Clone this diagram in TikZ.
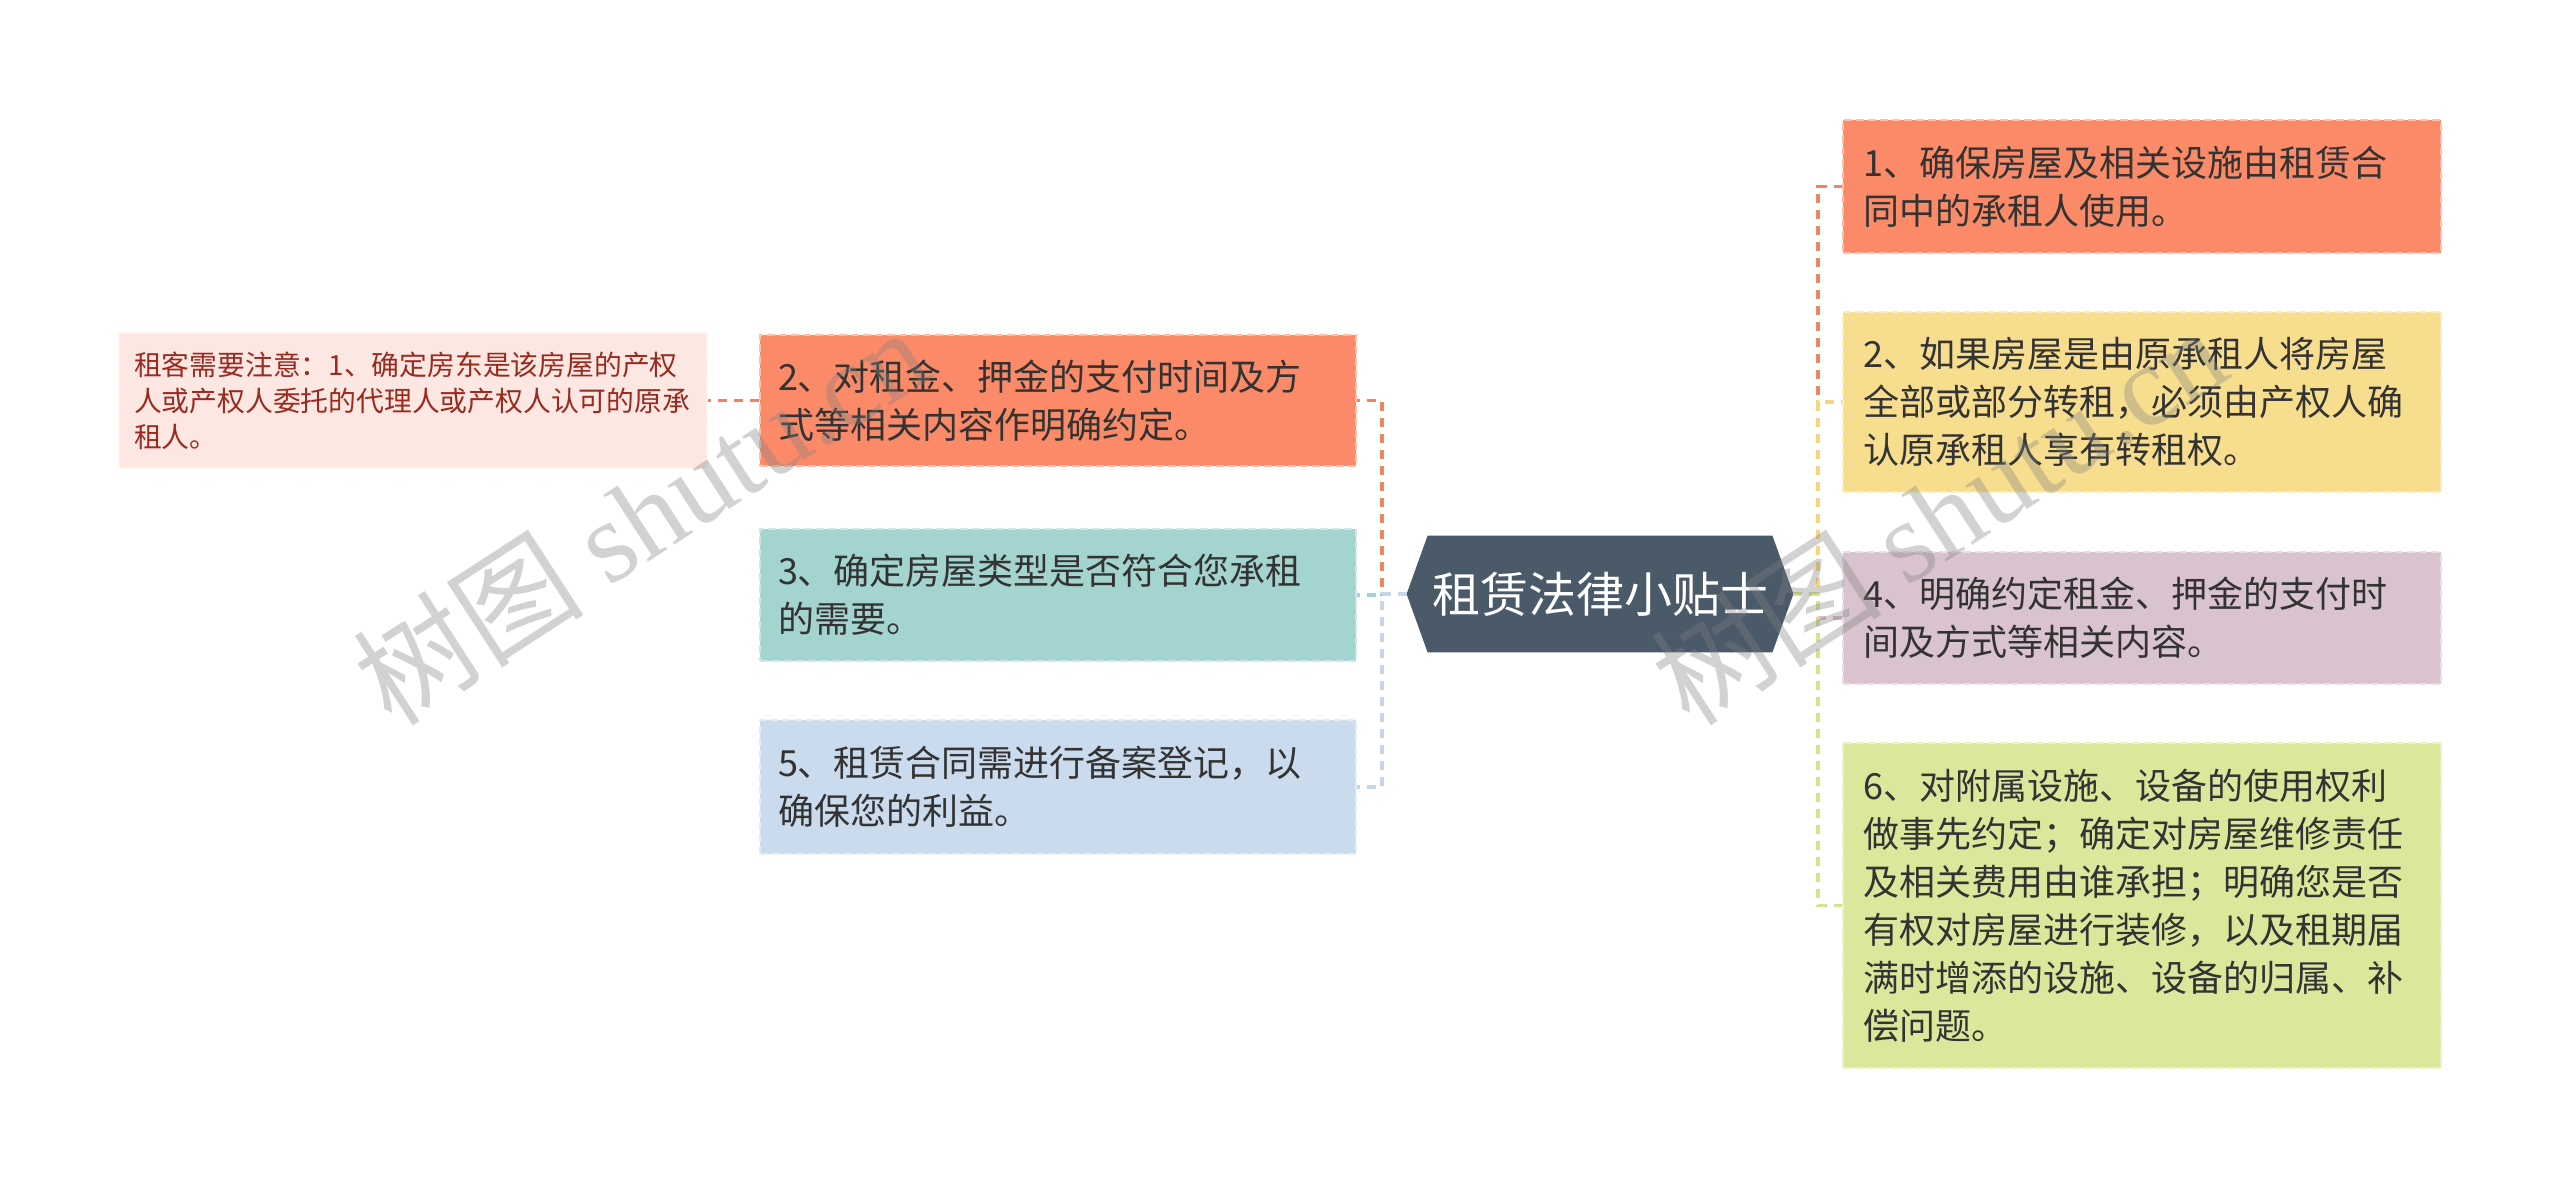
\documentclass[tikz,border=0pt]{standalone}
\usepackage{fontspec}
\setmainfont{Noto Sans CJK SC}
\newfontfamily\wmlatin{Liberation Serif}
\usetikzlibrary{backgrounds}
\definecolor{corange}{HTML}{FB8A68}
\definecolor{cteal}{HTML}{A3D4CF}
\definecolor{cblue}{HTML}{C9DBEC}
\definecolor{cyellow}{HTML}{F7DE8F}
\definecolor{cmauve}{HTML}{D9C3CE}
\definecolor{cgreen}{HTML}{DBE89C}
\definecolor{ccenter}{HTML}{4A5A69}
\definecolor{cnote}{HTML}{FDE7E3}
\definecolor{cnotetxt}{HTML}{9A2A1E}
\definecolor{ctxt}{HTML}{333333}
\definecolor{lorange}{HTML}{EE8466}
\definecolor{lteal}{HTML}{A3D4CF}
\definecolor{lblue}{HTML}{C5D6E8}
\definecolor{lyellow}{HTML}{F2D77E}
\definecolor{lmauve}{HTML}{D3BCC8}
\definecolor{lgreen}{HTML}{D4E48C}
\begin{document}
\begin{tikzpicture}[x=0.5pt,y=-0.5pt,
  box/.style={rectangle, inner xsep=9pt, inner ysep=0pt, text width=280pt,
    align=left, font=\fontsize{18pt}{24pt}\selectfont, text=ctxt,
    line width=1pt, dash pattern=on 4pt off 2pt},
  rbox/.style={box, inner xsep=10pt, text width=279pt},
  obox/.style={fill=corange, draw=corange!55!white},
  tbox/.style={fill=cteal, draw=cteal!55!white},
  bbox/.style={fill=cblue, draw=cblue!50!white},
  ybox/.style={fill=cyellow, draw=cyellow!55!white},
  mbox/.style={fill=cmauve, draw=cmauve!55!white},
  gbox/.style={fill=cgreen, draw=cgreen!55!white},
  notebox/.style={rectangle, fill=cnote, draw=cnote!60!white, line width=1pt,
    dash pattern=on 4pt off 2pt, inner xsep=7.5pt, inner ysep=0pt,
    text width=279pt, align=left, text=cnotetxt,
    font=\fontsize{13.9pt}{18pt}\selectfont},
  conn/.style={line width=1.6pt, dash pattern=on 4.5pt off 3.5pt},
  wm/.style={rotate=33, text=gray, opacity=0.35, font=\fontsize{58pt}{58pt}\selectfont},
]
\useasboundingbox (0,0) rectangle (2560,1188);

% center
\node[minimum width=193pt, minimum height=58pt, inner sep=0pt, text=white,
  font=\fontsize{24pt}{28pt}\selectfont] (c) at (1600,594) {租赁法律小贴士};
\begin{scope}[on background layer]
\fill[white] (0,0) rectangle (2560,1188);
\fill[ccenter] (c.west) -- ([xshift=10.5pt]c.north west) -- ([xshift=-10.5pt]c.north east)
  -- (c.east) -- ([xshift=-10.5pt]c.south east) -- ([xshift=10.5pt]c.south west) -- cycle;
\end{scope}

% left nodes
\node[box, obox, minimum height=65.5pt] (l2) at (1058,400.5)
  {2、对租金、押金的支付时间及方\\式等相关内容作明确约定。};
\node[box, tbox, minimum height=66pt] (l3) at (1058,595)
  {3、确定房屋类型是否符合您承租\\的需要。};
\node[box, bbox, minimum height=67pt] (l5) at (1058,787)
  {5、租赁合同需进行备案登记，以\\确保您的利益。};
\node[notebox, minimum width=294pt, minimum height=67.5pt] (note) at (413,400.5)
  {租客需要注意：1、确定房东是该房屋的产权\\人或产权人委托的代理人或产权人认可的原承\\租人。};

% right nodes
\node[rbox, obox, minimum height=66.5pt] (r1) at (2142,186.5)
  {1、确保房屋及相关设施由租赁合\\同中的承租人使用。};
\node[rbox, ybox, minimum height=90pt] (r2) at (2142,402)
  {2、如果房屋是由原承租人将房屋\\全部或部分转租，必须由产权人确\\认原承租人享有转租权。};
\node[rbox, mbox, minimum height=66pt] (r4) at (2142,618)
  {4、明确约定租金、押金的支付时\\间及方式等相关内容。};
\node[rbox, gbox, minimum height=162.5pt] (r6) at (2142,905.5)
  {6、对附属设施、设备的使用权利\\做事先约定；确定对房屋维修责任\\及相关费用由谁承担；明确您是否\\有权对房屋进行装修，以及租期届\\满时增添的设施、设备的归属、补\\偿问题。};

% trunks
\coordinate (tl) at (1382,594);
\coordinate (tr) at (1818,594);

% connectors left
\draw[conn, lorange] (c.west) -- (tl) |- (l2.east);
\draw[conn, lteal] (c.west) -- (tl) |- (l3.east);
\draw[conn, lblue] (c.west) -- (tl) |- (l5.east);
\draw[conn, lorange] (l2.west) -- (note.east);

% connectors right
\draw[conn, lorange] (c.east) -- (tr) |- (r1.west);
\draw[conn, lyellow] (c.east) -- (tr) |- (r2.west);
\draw[conn, lmauve] (c.east) -- (tr) |- (r4.west);
\draw[conn, lgreen] (c.east) -- (tr) |- (r6.west);

% watermarks
\node[wm] (wm1) at (640,515) {树图 {\wmlatin shutu.cn}};
\node[wm] (wm2) at (1938,515) {树图 {\wmlatin shutu.cn}};
\end{tikzpicture}
\end{document}
